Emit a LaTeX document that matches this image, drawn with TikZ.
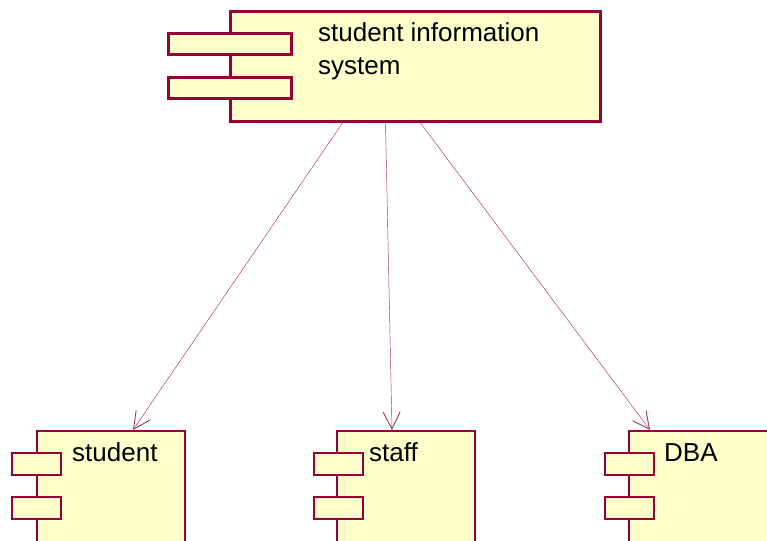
\documentclass[tikz,border=0pt]{standalone}
\usepackage{fontspec}
\setmainfont{Liberation Sans}
\usetikzlibrary{arrows.meta}
\definecolor{umlred}{RGB}{153,0,51}
\definecolor{umlfill}{RGB}{255,255,204}
\begin{document}
\begin{tikzpicture}[x=1pt, y=-1pt, >={Straight Barb[length=17pt, width=17pt, line width=0.9pt]}]
    \tikzset{
        comp/.style={draw=umlred, fill=umlfill, line width=1.6pt, rectangle, inner sep=0pt, anchor=north west},
        comptab/.style={comp, minimum width=49pt, minimum height=22pt},
        compname/.style={anchor=base west, inner sep=0pt, font=\fontsize{26}{33}\selectfont},
        link/.style={draw=umlred!80, line width=0.45pt, ->}
    }
    \useasboundingbox (0,0) rectangle (767,540);

    % 1. Khoi chinh
    \node[comp, line width=3pt, minimum width=370pt, minimum height=110pt] (sis) at (229,10) {};
    \node[comp, line width=3pt, minimum width=123pt, minimum height=21pt] (sistab1) at (167,32) {};
    \node[comp, line width=3pt, minimum width=123pt, minimum height=21pt] (sistab2) at (167,76) {};
    \node[anchor=north west, inner sep=0pt, align=left, font=\fontsize{26}{33}\selectfont] (sisname) at (318,22) {student information\\system};

    % 2. Cac khoi con
    \node[comp, minimum width=148pt, minimum height=130pt] (student) at (36,430) {};
    \node[comptab] (studenttab1) at (11,452) {};
    \node[comptab] (studenttab2) at (11,496) {};
    \node[compname] (studentname) at (72,461) {student};

    \node[comp, minimum width=138pt, minimum height=130pt] (staff) at (336,430) {};
    \node[comptab] (stafftab1) at (313,452) {};
    \node[comptab] (stafftab2) at (313,496) {};
    \node[compname] (staffname) at (369,461) {staff};

    \node[comp, minimum width=148pt, minimum height=130pt] (dba) at (628,430) {};
    \node[comptab] (dbatab1) at (604,452) {};
    \node[comptab] (dbatab2) at (604,496) {};
    \node[compname] (dbaname) at (664,461) {DBA};

    % 3. Cac mui ten phu thuoc
    \draw[link] ([xshift=-73pt]sis.south) -- ([xshift=97pt]student.north west);
    \draw[link] ([xshift=-30pt]sis.south) -- ([xshift=56pt]staff.north west);
    \draw[link] ([xshift=5pt]sis.south) -- ([xshift=22pt]dba.north west);
\end{tikzpicture}
\end{document}
